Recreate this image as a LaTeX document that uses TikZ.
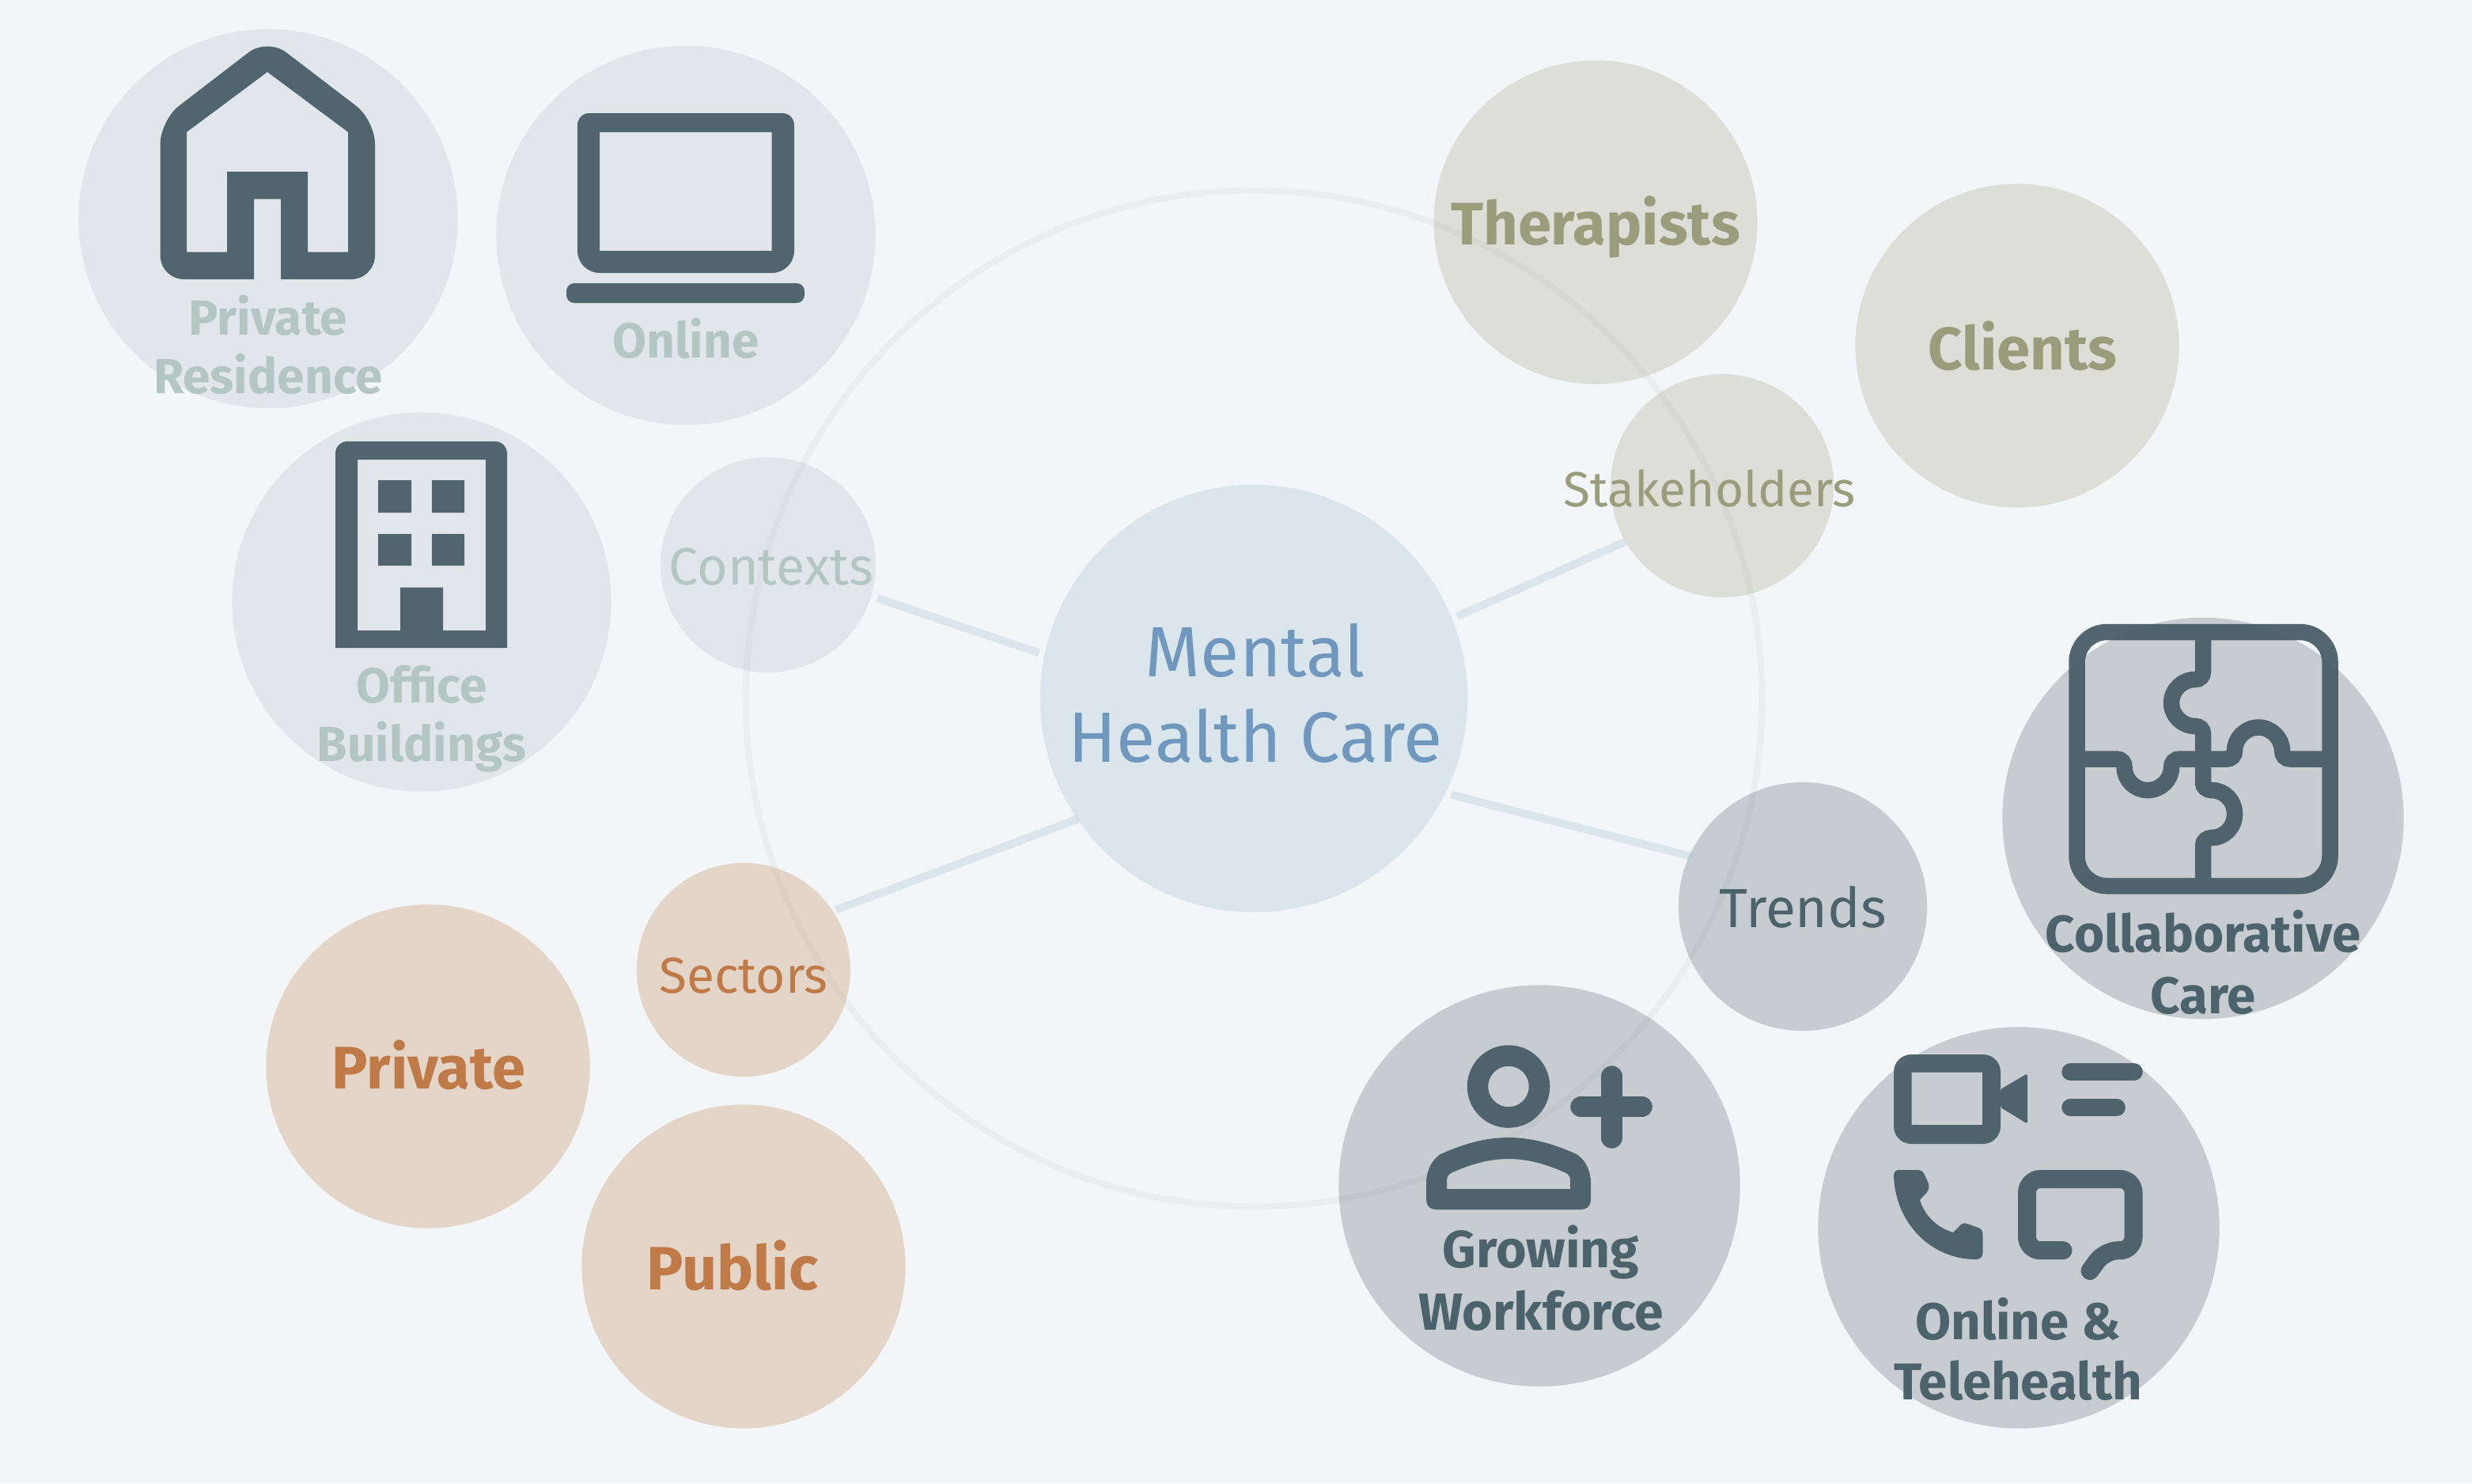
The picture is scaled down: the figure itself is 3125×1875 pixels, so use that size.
\documentclass[tikz,border=0pt]{standalone}
\usepackage{fontspec}
\setmainfont{Fira Sans}
\definecolor{bg}{HTML}{F2F6F9}
\definecolor{ringc}{HTML}{EAEEF1}
\definecolor{hubf}{HTML}{9AB6C6}
\definecolor{iconc}{HTML}{465C65}
\definecolor{ctxt}{HTML}{B4C6C2}
\definecolor{ctxf}{HTML}{AEBABC}
\definecolor{trd}{HTML}{4D636C}
\definecolor{trdf}{HTML}{4A525D}
\definecolor{stk}{HTML}{9A9C7C}
\definecolor{stkf}{HTML}{9E9A75}
\definecolor{sec}{HTML}{C07A48}
\definecolor{secf}{HTML}{BE763D}
\definecolor{ctr}{HTML}{7097BD}
\tikzset{
 x=0.01cm,y=-0.01cm,
 disc/.style n args={3}{circle,draw=none,fill=#2,fill opacity=.25,inner sep=0pt,minimum size=#1*0.02cm,outer sep=#3*0.01cm},
 link/.style={draw=hubf,draw opacity=.25,line width=0.1cm},
 icon/.style={fill=iconc,fill opacity=.93},
 iconline/.style={draw=iconc,draw opacity=.93},
 lab/.style n args={3}{font=\fontsize{#1}{#2}\selectfont,text=#3,align=center,anchor=base,inner sep=0pt},
 labb/.style n args={3}{font=\bfseries\fontsize{#1}{#2}\selectfont,text=#3,align=center,anchor=base,inner sep=0pt},
}
\begin{document}
\begin{tikzpicture}
\useasboundingbox (0,0) rectangle (3125,1875);
\fill[bg] (0,0) rectangle (3125,1875);
\node[circle,draw=ringc,line width=0.08cm,minimum size=12.84cm,inner sep=0pt] (ring) at (1585,883) {};
% discs
\node[disc={270}{hubf}{7}] (hub) at (1585,883) {};
\node[disc={136}{ctxf}{8}] (contexts) at (971,714) {};
\node[disc={239.5}{ctxf}{0}] (residence) at (339,276.5) {};
\node[disc={239.5}{ctxf}{0}] (online) at (867,297.5) {};
\node[disc={239.5}{ctxf}{0}] (office) at (533,761) {};
\node[disc={141}{stkf}{0}] (stakeholders) at (2177,614) {};
\node[disc={204.5}{stkf}{0}] (therapists) at (2017,281) {};
\node[disc={204.5}{stkf}{0}] (clients) at (2550,437) {};
\node[disc={135}{secf}{4}] (sectors) at (940,1226) {};
\node[disc={204.5}{secf}{0}] (private) at (541,1348) {};
\node[disc={204.5}{secf}{0}] (public) at (940,1601) {};
\node[disc={157}{trdf}{0}] (trends) at (2279,1146) {};
\node[disc={253.5}{trdf}{0}] (collab) at (2785,1034.5) {};
\node[disc={253.5}{trdf}{0}] (tele) at (2552,1552) {};
\node[disc={253.5}{trdf}{0}] (growing) at (1946,1499) {};
% connectors
\draw[link] (hub.168.6) -- (contexts.-17.8);
\draw[link] (hub.22.8) -- (stakeholders.-150.2);
\draw[link,shorten >=-0.03cm] (hub.-26) -- (trends.156.3);
\draw[link,shorten <=-0.08cm] (hub.-146.4) -- (sectors.33.6);
% house
\fill[icon,even odd rule] (321,353) -- (321,251.5) -- (355,251.5) -- (355,353) [rounded corners=0.3cm] -- (474,353) -- (474,152) -- (338,48) -- (202.6,152) -- (202.6,353) [sharp corners] -- (321,353) -- cycle
 (236,167) -- (338,91) -- (440,167) -- (440,318.5) -- (389,318.5) -- (389,217) -- (287,217) -- (287,318.5) -- (236,318.5) -- cycle;
% laptop
\fill[icon,even odd rule] [rounded corners=0.15cm] (730,240) -- (730,143) -- (1004,143) -- (1004,240) [rounded corners=0.28cm] -- (1004,345) -- (730,345) -- cycle [sharp corners] (758,167) rectangle (975.5,317);
\fill[icon,rounded corners=0.1cm] (716,383) -- (716,358) -- (1017,358) -- (1017,383) -- cycle;
% building
\fill[icon,even odd rule] [rounded corners=0.15cm] (424,700) -- (424,558) -- (641,558) -- (641,700) [sharp corners] -- (641,819) -- (424,819) -- cycle
 (452,581) -- (614,581) -- (614,797) -- (560,797) -- (560,742.6) -- (506,742.6) -- (506,797) -- (452,797) -- cycle
 (478,607) rectangle (520,648) (546,607) rectangle (587,648) (478,675) rectangle (520,715) (546,675) rectangle (587,715);
% puzzle
\draw[iconline,line width=0.205cm] [rounded corners=0.38cm] (2625.5,799) -- (2945.5,799) -- (2945.5,1120) -- (2625.5,1120) -- cycle [sharp corners]
 (2626,959.5) -- (2676,959.5) .. controls (2682,959.5) and (2685.6,964) .. (2685.6,970) .. controls (2685.6,986) and (2699,999) .. (2715,999) .. controls (2731,999) and (2745,986) .. (2745,970) .. controls (2745,964) and (2749,959.5) .. (2755,959.5) -- (2815,959.5) .. controls (2821,959.5) and (2825,955) .. (2825,949) .. controls (2825,933) and (2839,919.5) .. (2855,919.5) .. controls (2871,919.5) and (2885,933) .. (2885,949) .. controls (2885,955) and (2889,959.5) .. (2895,959.5) -- (2945,959.5)
 (2785,799) -- (2785,849) .. controls (2785,855) and (2781,859) .. (2775,859) .. controls (2759,859) and (2745,872) .. (2745,888.5) .. controls (2745,905) and (2759,918) .. (2775,918) .. controls (2781,918) and (2785,922) .. (2785,928) -- (2785,990) .. controls (2785,995) and (2790,999) .. (2796,999) .. controls (2812,999) and (2825,1012) .. (2825,1029) .. controls (2825,1046) and (2812,1059) .. (2796,1059) .. controls (2790,1059) and (2785,1063) .. (2785,1069) -- (2785,1120);
% telehealth
\fill[icon,even odd rule] [rounded corners=0.22cm] (2394,1333) rectangle (2529,1446) [sharp corners] (2416.5,1355.7) rectangle (2506,1422);
\fill[icon,rounded corners=0.03cm] (2529,1377) -- (2563,1357) -- (2563,1420.6) -- (2529,1400) -- cycle;
\draw[iconline,line width=0.225cm,line cap=round] (2617.5,1355) -- (2697.5,1355) (2617.5,1400) -- (2675.6,1400);
\fill[icon] (2394,1487) .. controls (2394,1482) and (2396,1479) .. (2400,1479) -- (2424,1479) .. controls (2428,1479) and (2431,1481) .. (2433,1485) -- (2437,1494) .. controls (2439,1498) and (2439,1503) .. (2436,1507) -- (2427,1517) .. controls (2433,1537) and (2449,1552) .. (2469,1558) -- (2476,1551) .. controls (2479,1547) and (2483,1545) .. (2487,1547) -- (2501,1552) .. controls (2505,1553) and (2506.5,1557) .. (2506.5,1561) -- (2506.5,1584) .. controls (2506.5,1589) and (2503,1592) .. (2498,1592) .. controls (2440,1592) and (2396,1545) .. (2394,1487) -- cycle;
\draw[iconline,line width=0.23cm,line cap=round,rounded corners=0.17cm] (2608,1580.7) -- (2562.5,1580.7) -- (2562.5,1490.5) -- (2697,1490.5) -- (2697,1580.7) -- (2660.7,1580.7) [rounded corners=0.08cm] -- (2642,1606.5);
% person plus
\draw[iconline,line width=0.265cm] (1907,1373.5) circle (39);
\fill[icon,even odd rule] (1815,1529) .. controls (1808,1529) and (1803,1524) .. (1803,1517) -- (1803,1495) .. controls (1803,1480) and (1810,1466) .. (1821,1459) .. controls (1850,1446) and (1878,1438) .. (1907,1438) .. controls (1936,1438) and (1964,1446) .. (1993,1459) .. controls (2004,1466) and (2011,1480) .. (2011,1495) -- (2011,1517) .. controls (2011,1524) and (2006,1529) .. (1999,1529) -- cycle
 (1829,1503) -- (1829,1492) .. controls (1829,1488) and (1831,1485) .. (1834,1483) .. controls (1858,1472) and (1882,1465) .. (1907,1465) .. controls (1932,1465) and (1956,1472) .. (1980,1483) .. controls (1983,1485) and (1985,1488) .. (1985,1492) -- (1985,1503) -- cycle;
\draw[iconline,line width=0.265cm,line cap=round] (1998.5,1399) -- (2075.5,1399) (2037.5,1360.5) -- (2037.5,1438.5);
% labels
\node[lab={25.6pt}{30.7pt}{ctr}] (t0) at (1587,963) {Mental\\Health Care};
\node[lab={18.9pt}{22pt}{ctxt}] (t1) at (975,739) {Contexts};
\node[lab={17.7pt}{21pt}{stk}] (t2) at (2161,640) {Stakeholders};
\node[lab={18.2pt}{21pt}{sec}] (t3) at (940,1255) {Sectors};
\node[lab={19.8pt}{22pt}{trd}] (t4) at (2279,1172) {Trends};
\node[labb={17.7pt}{21pt}{ctxt}] (t5) at (339,497) {Private\\Residence};
\node[labb={17.7pt}{21pt}{ctxt}] (t6) at (867,452) {Online};
\node[labb={17.7pt}{21pt}{ctxt}] (t7) at (533,962) {Office\\Buildings};
\node[labb={21.6pt}{26pt}{stk}] (t8) at (2017,309) {Therapists};
\node[labb={21.6pt}{26pt}{stk}] (t9) at (2557,467) {Clients};
\node[labb={21.6pt}{26pt}{sec}] (t10) at (542,1376) {Private};
\node[labb={22pt}{26pt}{sec}] (t11) at (926,1630) {Public};
\node[labb={18.6pt}{22pt}{trd}] (t12) at (2785,1281) {Collaborative\\Care};
\node[labb={18.6pt}{21.6pt}{trd}] (t13) at (2551,1769) {Online \&\\Telehealth};
\node[labb={18.8pt}{22.2pt}{trd}] (t14) at (1948,1681) {Growing\\Workforce};
\end{tikzpicture}
\end{document}
